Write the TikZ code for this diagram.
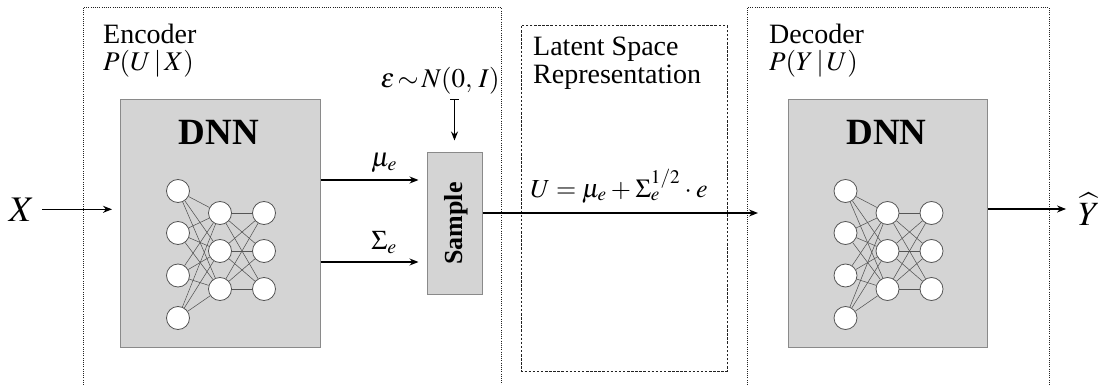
\documentclass[tikz,border=0pt]{standalone}
\usepackage{mathptmx}
\usepackage{fontspec}
\setmainfont{Liberation Serif}
\usetikzlibrary{arrows.meta}
\definecolor{boxgray}{HTML}{D4D4D4}
\definecolor{boxedge}{HTML}{8A8A8A}
\definecolor{dotcol}{HTML}{222222}
\definecolor{syncol}{HTML}{555555}
\newcommand{\fsz}[1]{\fontsize{#1}{#1}\selectfont}
\begin{document}
\begin{tikzpicture}[x=1pt,y=-1pt,
  region/.style={draw=dotcol, line width=1pt, dash pattern=on 1pt off 1.2pt},
  latentbox/.style={draw=dotcol, line width=1pt, dash pattern=on 2.5pt off 1.6pt},
  dnnbox/.style={draw=boxedge, fill=boxgray, line width=1pt, minimum width=199.5pt, minimum height=247.5pt, inner sep=0pt},
  samplebox/.style={draw=boxedge, fill=boxgray, line width=1pt, minimum width=55pt, minimum height=141pt, inner sep=0pt},
  neuron/.style={circle, draw=syncol, fill=white, line width=0.8pt, minimum size=23pt, inner sep=0pt},
  syn/.style={draw=syncol, line width=0.55pt},
  arr/.style={draw=black, line width=1.3pt, -{Stealth[length=9pt,width=7pt]}},
  lbl/.style={font=\fsz{28}, inner sep=0pt},
  mlbl/.style={font=\fsz{27}, inner sep=0pt},
  dnnlbl/.style={font=\fsz{37}\bfseries, inner sep=0pt},
  biglbl/.style={font=\fsz{36}, inner sep=0pt}
]
\useasboundingbox (0,0) rectangle (1103,385);

% regions
\draw[region] (83,385) -- (83,7.5) -- (501,7.5) -- (501,385);
\draw[latentbox] (521,26) rectangle (727,371);
\draw[region] (747,385) -- (747,7.5) -- (1049,7.5) -- (1049,385);

% region labels
\node[lbl, anchor=base west] (enclbl) at (103,44) {Encoder};
\node[mlbl, anchor=base west] (encp) at (103,71) {$P(U\,|\,X)$};
\node[lbl, anchor=base west] (latlbl1) at (533,56) {Latent Space};
\node[lbl, anchor=base west] (latlbl2) at (533,84) {Representation};
\node[lbl, anchor=base west] (declbl) at (769,44) {Decoder};
\node[mlbl, anchor=base west] (decp) at (769,71) {$P(Y\,|\,U)$};

% DNN boxes
\node[dnnbox] (encdnn) at (220.25,223.25) {};
\node[dnnbox] (decdnn) at (887.75,223.25) {};
\node[dnnlbl] (encdnnlbl) at (219,132) {DNN};
\node[dnnlbl] (decdnnlbl) at (886.5,132) {DNN};

% networks
\foreach \p/\ox in {e/0, d/667.5} {
  \foreach \i/\y in {1/191,2/233,3/275.5,4/318}
    \node[neuron] (\p i\i) at (178+\ox,\y) {};
  \foreach \j/\y in {1/213,2/251,3/289} {
    \node[neuron] (\p h\j) at (220+\ox,\y) {};
    \node[neuron] (\p o\j) at (264+\ox,\y) {};
  }
  \foreach \i in {1,2,3,4}
    \foreach \j in {1,2,3}
      \draw[syn] (\p i\i) -- (\p h\j);
  \foreach \i in {1,2,3}
    \foreach \j in {1,2,3}
      \draw[syn] (\p h\i) -- (\p o\j);
}

% sample
\node[samplebox] (sample) at (454.5,223.5) {};
\node[rotate=90, font=\fsz{26}\bfseries, inner sep=0pt] (samplelbl) at (456,223.5) {Sample};

% noise
\node[mlbl, anchor=base] (eps) at (440,88) {$\varepsilon\,{\sim}\,N(0,\,I)$};
\coordinate (epsin) at (454.5,99);
\draw[line width=1.3pt, {Bar[width=9pt]}-{Stealth[length=9pt,width=7pt]}, shorten >=12pt] (epsin) -- (sample.north);

% input
\node[biglbl, anchor=base] (X) at (21.5,221) {$X$};
\draw[arr, shorten <=8pt, shorten >=8pt] (X.east) -- (X.east -| encdnn.west);

% mu, sigma
\draw[arr, shorten >=8pt] (encdnn.east |- 0,180) -- (sample.west |- 0,180)
  node[mlbl, pos=0.6, above=7pt] (mulbl) {$\mu_e$};
\draw[arr, shorten >=8pt] (encdnn.east |- 0,262) -- (sample.west |- 0,262)
  node[mlbl, pos=0.6, above=8pt] (siglbl) {$\Sigma_e$};

% latent
\coordinate (uend) at (758,213);
\draw[arr] (sample.east |- uend) -- (uend);
\node[font=\fsz{26}, inner sep=0pt, anchor=base] (ueq) at (619,197)
  {$\medmuskip=3mu\thickmuskip=4mu U=\mu_e+\Sigma_e^{1/2}\cdot e$};

% output
\node[font=\fsz{34}, inner sep=0pt, anchor=base] (Yhat) at (1089,225) {$\widehat{Y}$};
\draw[arr, shorten >=12pt] (decdnn.east |- 0,209) -- (Yhat.west |- 0,209);
\end{tikzpicture}
\end{document}
